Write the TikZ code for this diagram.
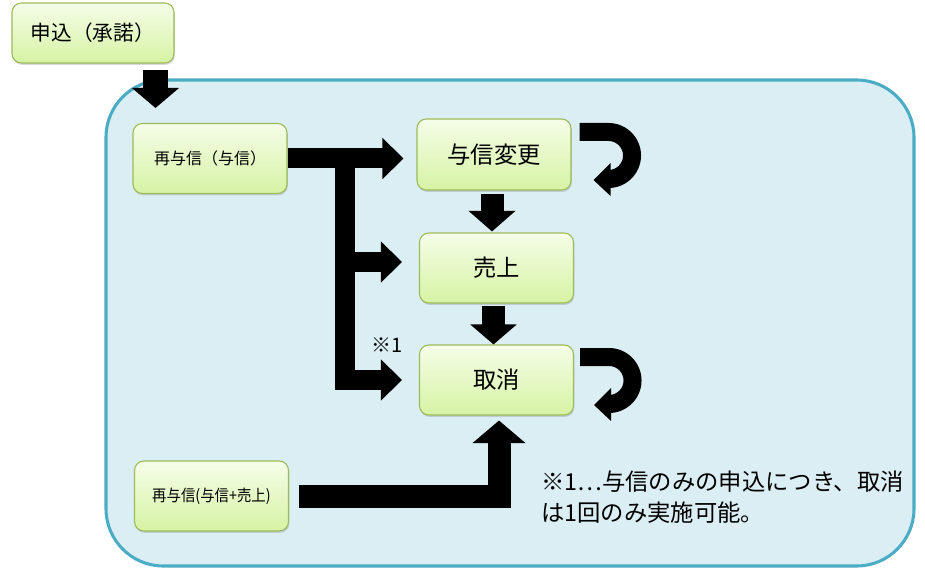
\documentclass[tikz,border=0pt]{standalone}
\usepackage{fontspec}
\setmainfont{Noto Sans CJK JP}
\usepackage{graphicx}
\usetikzlibrary{arrows.meta,calc,shadows}
\definecolor{panelfill}{HTML}{DBEEF4}
\definecolor{panelline}{HTML}{4BACC6}
\definecolor{boxtop}{HTML}{F5FDE8}
\definecolor{boxbot}{HTML}{D6F3A4}
\definecolor{boxline}{HTML}{9BBB59}
\begin{document}
\begin{tikzpicture}[x=0.75pt,y=-0.75pt,
  box/.style={draw=boxline, line width=0.8pt, rounded corners=7pt,
    top color=boxtop, bottom color=boxbot,
    minimum width=115.5pt, minimum height=52.5pt, inner sep=0pt,
    drop shadow={shadow xshift=0.6pt,shadow yshift=-1.4pt,opacity=0.3}},
  bigfont/.style={font=\fontsize{17.5pt}{21pt}\selectfont},
  harrow/.style={draw=black, line width=15pt, -{Triangle[width=30pt,length=15.75pt]}},
  varrow/.style={draw=black, line width=17.25pt, -{Triangle[width=34.5pt,length=15.5pt]}},
  uturn/.pic={\fill[black] (0,0) -- (29,0) arc[start angle=-90,end angle=90,radius=32.5]
      -- (31,65) -- (31,73) -- (14,57) -- (31,40) -- (31,47) -- (29,47)
      arc[start angle=90,end angle=-90,radius=14.5] -- (29,18) -- (0,18) -- cycle;}
  ]
\useasboundingbox (0,0) rectangle (925,574);
% panel
\draw[draw=panelline, fill=panelfill, line width=2.3pt, rounded corners=43pt]
  (106,80) rectangle (914,566);
% nodes
\node[box, minimum width=121.5pt, minimum height=45pt, font=\fontsize{15.5pt}{18pt}\selectfont]
  (apply) at (93,33) {申込（承諾）};
\node[box, font=\fontsize{12pt}{14pt}\selectfont] (rc) at (210,158.5) {再与信（与信）};
\node[box, minimum height=53.25pt, bigfont] (chg) at (494,154.5) {与信変更};
\node[box, bigfont] (sale) at (496.5,268) {売上};
\node[box, bigfont] (cancel) at (496.5,380) {取消};
\node[box, font=\fontsize{12pt}{14pt}\selectfont] (rcs) at (211.5,496)
  {\scalebox{0.9}[1]{再与信(与信+売上)}};
% arrow from apply into panel
\coordinate (a1) at (155.5,70);
\coordinate (a2) at (155.5,108);
\draw[draw=black, line width=18.75pt, -{Triangle[width=34.5pt,length=15pt]}] (a1) -- (a2);
% T-shaped arrows
\coordinate (jt) at (345,148.5);
\coordinate (jm) at (345,262);
\coordinate (jb) at (345,380);
\draw[harrow] (rc.east) -- ($(chg.west |- rc.east)+(-13,0)$);
\draw[harrow] (jt) -- (jb) -- ($(cancel.west)+(-17,0)$);
\draw[harrow] (jm) -- ($(sale.west)+(-17,-6)$);
% vertical arrows
\draw[varrow] ($(chg.south)+(-2,3)$) -- ($(sale.north)+(-4.5,-1)$);
\draw[varrow, -{Triangle[width=34pt,length=15pt]}] ($(sale.south)+(-3,2)$) -- ($(cancel.north)+(-3,0)$);
\draw[varrow, -{Triangle[width=39pt,length=17pt]}]
  ($(rcs.east)+(10,0.5)$) -- ($(cancel.south|-rcs.east)+(2.5,0.5)$) -- ($(cancel.south)+(2.5,5)$);
% u-turn arrows
\pic at ($(chg.east)+(8,-31.5)$) {uturn};
\pic at ($(cancel.east)+(6,-32)$) {uturn};
% labels
\node[inner sep=0pt, font=\fontsize{15pt}{17pt}\selectfont] (n1) at (387,345) {※1};
\node[anchor=base west, inner sep=0pt, bigfont] (note1) at (541,490) {※1…与信のみの申込につき、取消};
\node[anchor=base west, inner sep=0pt, bigfont] (note2) at (541,521) {は1回のみ実施可能。};
\end{tikzpicture}
\end{document}
